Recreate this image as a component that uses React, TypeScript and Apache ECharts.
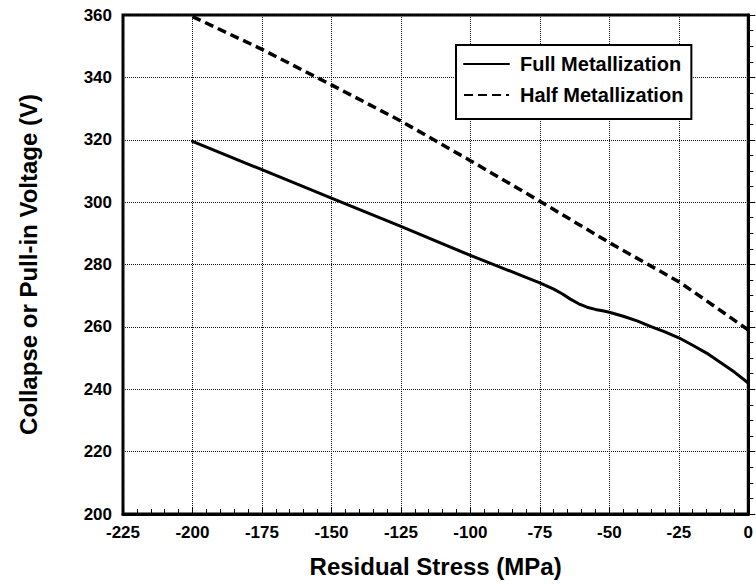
import React, { useEffect, useRef } from "react";
import * as echarts from "echarts";

const fullStress = [-200, -175, -150, -125, -100, -90, -80, -75, -70, -67, -64, -61, -58, -55, -52, -50, -45, -40, -35, -30, -25, -20, -15, -10, -5, 0];
const fullVoltage = [319.5, 310.4, 301.3, 292.2, 282.9, 279.4, 275.9, 274.1, 272.1, 270.6, 268.9, 267.4, 266.3, 265.6, 265.1, 264.7, 263.4, 261.9, 260.1, 258.4, 256.5, 254.1, 251.6, 248.6, 245.5, 242];
const halfStress = [-200, -175, -150, -125, -100, -75, -50, -25, -12, 0];
const halfVoltage = [359.5, 349, 337.6, 326, 313.3, 300.3, 287, 274.5, 266.5, 259];

const seriesNames = ["Full Metallization", "Half Metallization"];
const xTitle = "Residual Stress (MPa)";
const yTitle = "Collapse or Pull-in Voltage (V)";

const FONT = "'Liberation Sans', Arial, Helvetica, sans-serif";

export default function App() {
  const ref = useRef<HTMLDivElement>(null);
  useEffect(() => {
    if (!ref.current) return;
    const chart = echarts.init(ref.current, undefined, { renderer: "svg" });
    const fullData = fullStress.map((x, i) => [x, fullVoltage[i]]);
    const halfData = halfStress.map((x, i) => [x, halfVoltage[i]]);
    chart.setOption({
      animation: false,
      backgroundColor: "#fff",
      textStyle: { fontFamily: FONT },
      grid: {
        left: 123,
        right: 7,
        top: 15,
        bottom: 70,
        show: true,
        borderColor: "#000",
        borderWidth: 3,
        containLabel: false,
      },
      legend: {
        data: seriesNames,
        orient: "vertical",
        left: 456,
        top: 45,
        backgroundColor: "#fff",
        borderColor: "#000",
        borderWidth: 2,
        borderRadius: 0,
        padding: [9, 8, 14, 7],
        itemWidth: 45,
        itemHeight: 14,
        itemGap: 11,
        itemStyle: { opacity: 0 },
        textStyle: {
          fontFamily: FONT,
          fontSize: 20,
          fontWeight: "bold",
          color: "#000",
          padding: [0, 0, 0, 6],
        },
      },
      xAxis: {
        type: "value",
        min: -225,
        max: 0,
        interval: 25,
        name: xTitle,
        nameLocation: "middle",
        nameGap: 40,
        nameTextStyle: { fontFamily: FONT, fontSize: 24, fontWeight: "bold", color: "#000" },
        axisLine: { show: true, lineStyle: { color: "#000", width: 3 } },
        axisTick: { show: true, inside: true, length: 7, lineStyle: { color: "#000", width: 1 } },
        minorTick: { show: true, splitNumber: 5, length: 5, lineStyle: { color: "#000", width: 1 } },
        axisLabel: { fontFamily: FONT, fontSize: 17, fontWeight: "bold", color: "#000", margin: 10 },
        splitLine: { show: true, lineStyle: { color: "#111", width: 1, type: "dotted" } },
      },
      yAxis: {
        type: "value",
        min: 200,
        max: 360,
        interval: 20,
        name: yTitle,
        nameLocation: "middle",
        nameGap: 83,
        nameTextStyle: { fontFamily: FONT, fontSize: 24, fontWeight: "bold", color: "#000" },
        axisLine: { show: true, lineStyle: { color: "#000", width: 3 } },
        axisTick: { show: true, inside: true, length: 7, lineStyle: { color: "#000", width: 1 } },
        minorTick: { show: true, splitNumber: 4, length: 5, lineStyle: { color: "#000", width: 1 } },
        axisLabel: { fontFamily: FONT, fontSize: 17, fontWeight: "bold", color: "#000", margin: 11 },
        splitLine: { show: true, lineStyle: { color: "#111", width: 1, type: "dotted" } },
      },
      series: [
        {
          name: seriesNames[0],
          type: "line",
          data: fullData,
          symbol: "none",
          smooth: false,
          lineStyle: { color: "#000", width: 3, type: "solid", join: "round", cap: "round" },
          itemStyle: { color: "#000" },
        },
        {
          name: seriesNames[1],
          type: "line",
          data: halfData,
          symbol: "none",
          smooth: false,
          lineStyle: { color: "#000", width: 3.5, type: [9, 5] },
          itemStyle: { color: "#000" },
        },
      ],
    });
    return () => chart.dispose();
  }, []);
  return (
    <div
      ref={ref}
      style={{ position: "absolute", left: 0, top: 0, width: 756, height: 584, background: "#fff" }}
    />
  );
}
